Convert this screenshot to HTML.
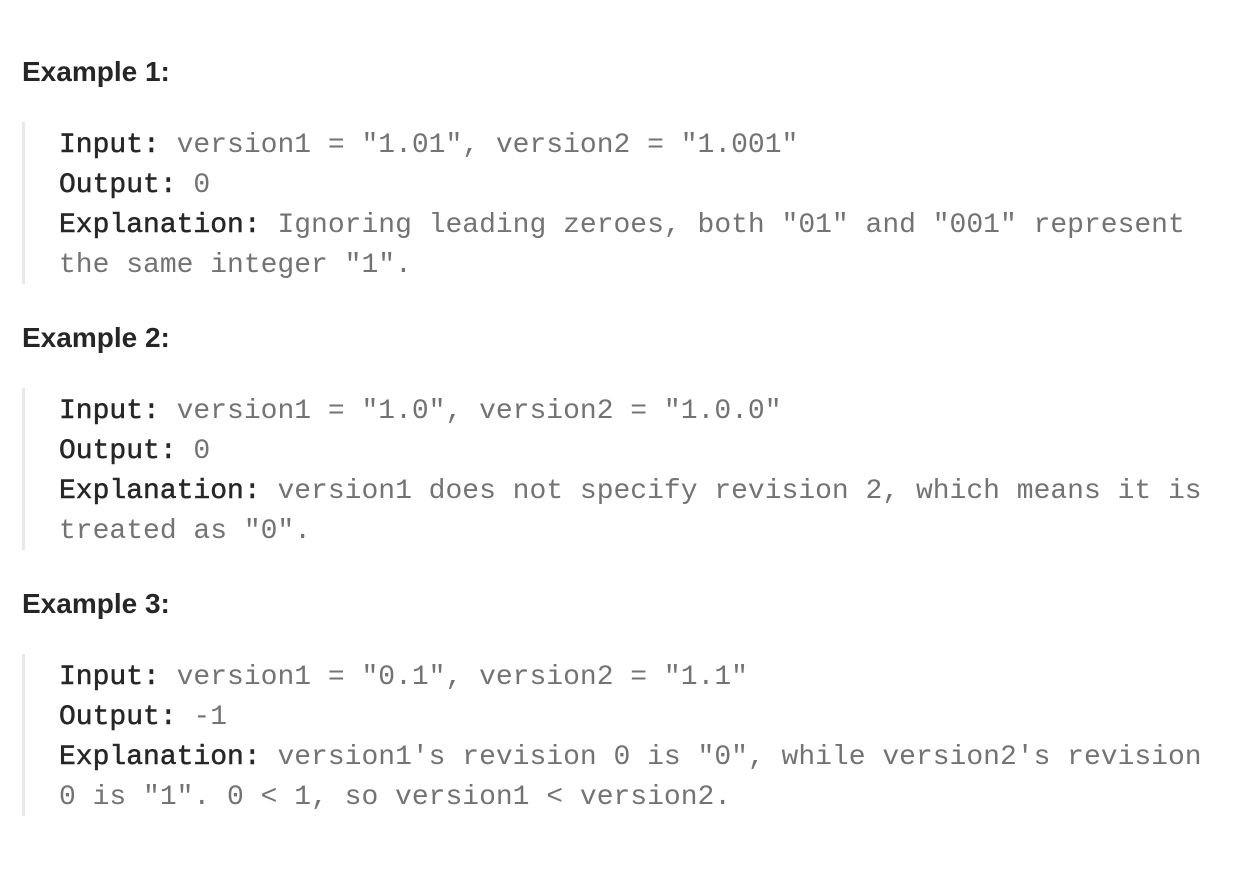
<!DOCTYPE html>
<html><head><meta charset="utf-8"><style>
body{margin:0;width:1242px;height:872px;background:#fff;position:relative;overflow:hidden}
.h{position:absolute;left:22px;font:bold 28px "Liberation Sans",sans-serif;color:#262626;line-height:30px}
.b{position:absolute;left:22px;width:3px;background:#e8e8e8;height:162px}
.l{position:absolute;left:59px;font:28px "Liberation Mono",monospace;color:#737373;line-height:40px;white-space:pre}
.l b{font-weight:normal;color:#262626;-webkit-text-stroke:0.5px #262626}
</style></head><body>
<div class="h" style="top:57px">Example 1:</div>
<div class="b" style="top:122px"></div>
<div class="l" style="top:126px"><b>Input:</b> version1 = "1.01", version2 = "1.001"</div>
<div class="l" style="top:166px"><b>Output:</b> 0</div>
<div class="l" style="top:206px"><b>Explanation:</b> Ignoring leading zeroes, both "01" and "001" represent</div>
<div class="l" style="top:246px">the same integer "1".</div>

<div class="h" style="top:323px">Example 2:</div>
<div class="b" style="top:388px"></div>
<div class="l" style="top:392px"><b>Input:</b> version1 = "1.0", version2 = "1.0.0"</div>
<div class="l" style="top:432px"><b>Output:</b> 0</div>
<div class="l" style="top:472px"><b>Explanation:</b> version1 does not specify revision 2, which means it is</div>
<div class="l" style="top:512px">treated as "0".</div>

<div class="h" style="top:589px">Example 3:</div>
<div class="b" style="top:654px"></div>
<div class="l" style="top:658px"><b>Input:</b> version1 = "0.1", version2 = "1.1"</div>
<div class="l" style="top:698px"><b>Output:</b> -1</div>
<div class="l" style="top:738px"><b>Explanation:</b> version1's revision 0 is "0", while version2's revision</div>
<div class="l" style="top:778px">0 is "1". 0 &lt; 1, so version1 &lt; version2.</div>
</body></html>
